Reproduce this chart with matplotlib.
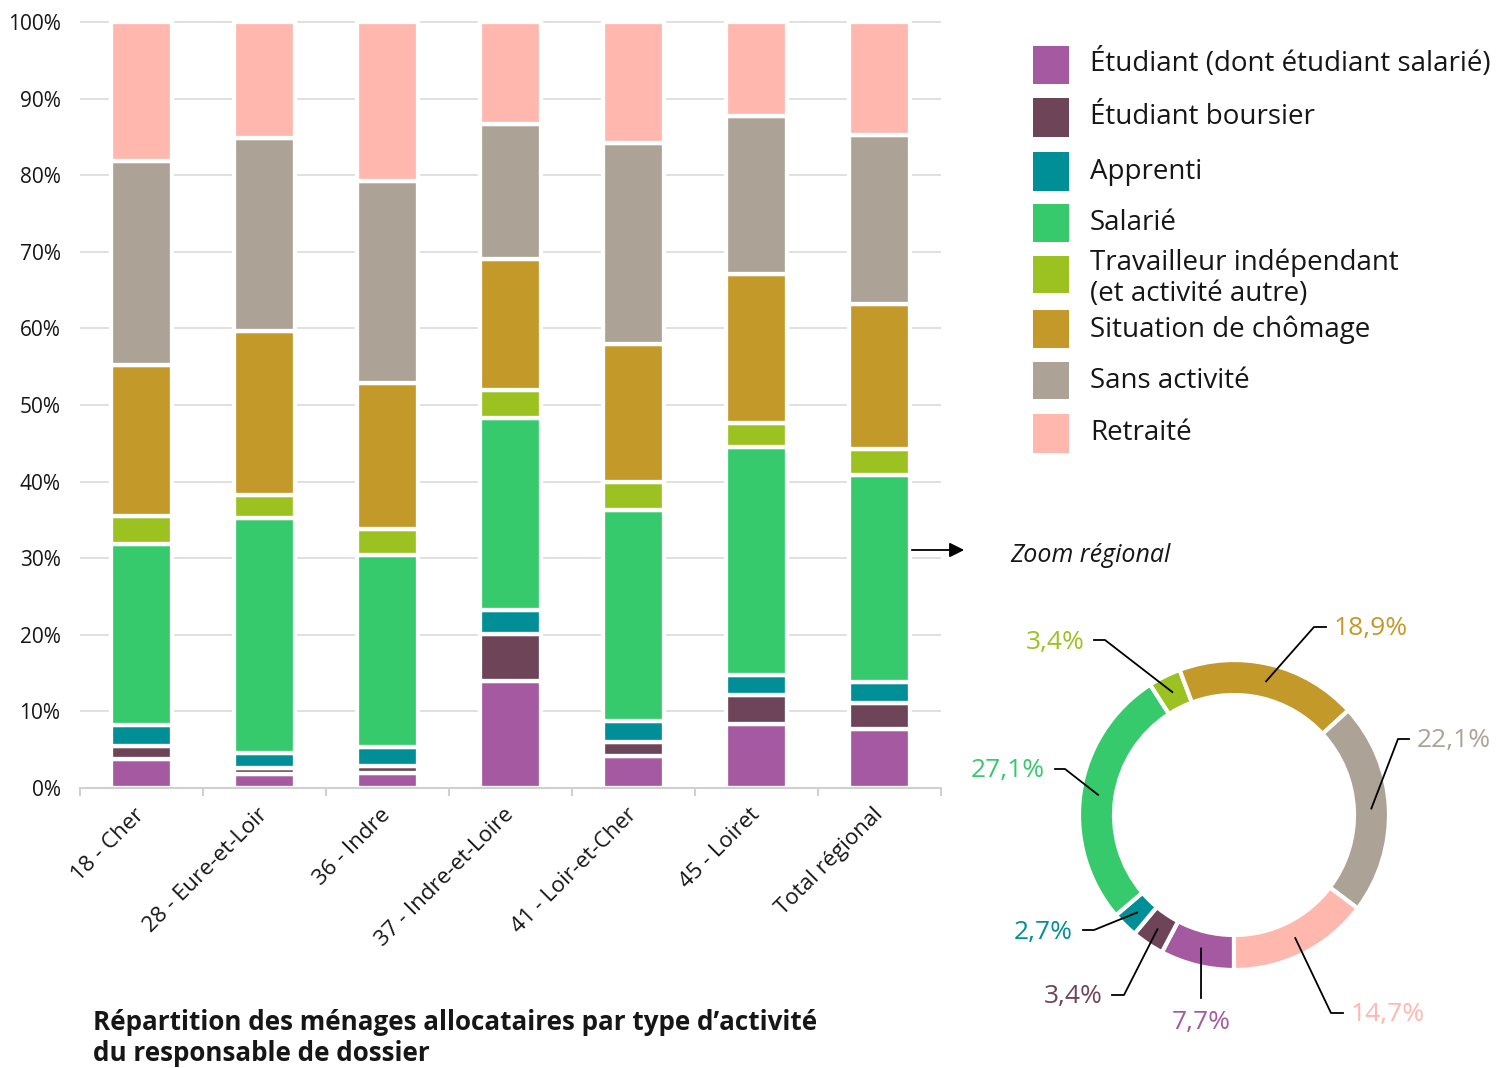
import matplotlib
matplotlib.use('Agg')
import matplotlib.pyplot as plt
import numpy as np
from matplotlib.patches import Rectangle
from matplotlib.lines import Line2D

plt.rcParams['font.family'] = ['Open Sans', 'DejaVu Sans']

# ---------------- data ----------------
categories = ['18 - Cher', '28 - Eure-et-Loir', '36 - Indre', '37 - Indre-et-Loire',
              '41 - Loir-et-Cher', '45 - Loiret', 'Total régional']
series_names = ['Étudiant (dont étudiant salarié)', 'Étudiant boursier', 'Apprenti', 'Salarié',
                'Travailleur indépendant\n(et activité autre)', 'Situation de chômage',
                'Sans activité', 'Retraité']
etudiant      = [3.75, 1.8, 1.9, 14.0, 4.2, 8.3, 7.7]
boursier      = [1.75, 0.8, 1.0, 6.1, 1.85, 3.9, 3.4]
apprenti      = [2.7, 2.0, 2.5, 3.2, 2.65, 2.55, 2.7]
salarie       = [23.7, 30.6, 25.0, 25.0, 27.55, 29.75, 27.1]
independant   = [3.6, 3.0, 3.4, 3.6, 3.75, 3.15, 3.4]
chomage       = [19.7, 21.5, 19.1, 17.2, 17.9, 19.5, 18.9]
sans_activite = [26.7, 25.2, 26.4, 17.6, 26.3, 20.55, 22.1]
retraite      = [18.1, 15.1, 20.7, 13.3, 15.8, 12.3, 14.7]
series = [etudiant, boursier, apprenti, salarie, independant, chomage, sans_activite, retraite]

donut_values = [7.7, 3.4, 2.7, 27.1, 3.4, 18.9, 22.1, 14.7]
donut_labels = ['7,7%', '3,4%', '2,7%', '27,1%', '3,4%', '18,9%', '22,1%', '14,7%']
yticks = [0, 10, 20, 30, 40, 50, 60, 70, 80, 90, 100]
ytick_labels = ['0%', '10%', '20%', '30%', '40%', '50%', '60%', '70%', '80%', '90%', '100%']
title = "Répartition des ménages allocataires par type d\u2019activité\ndu responsable de dossier"

colors = ['#A559A0', '#6E4558', '#008F96', '#36CA6D', '#9BC220', '#C3992A', '#ACA295', '#FFB7AE']

# ---------------- layout ----------------
W, H = 1509, 1068
fig = plt.figure(figsize=(W / 100, H / 100), dpi=100)

def fx(px):
    return px / W

def fy(py):
    return 1 - py / H

# bar axes: x from 80 to 941 px, y: 0% at 788 px, 100% at 22 px
ppu = (788 - 22) / 100.0
ytop = 100.6
ax = fig.add_axes([fx(80), fy(788), fx(941) - fx(80), (ytop * ppu) / H])
x = np.arange(len(categories))
bottom = np.zeros(len(categories))
for vals, c in zip(series, colors):
    ax.bar(x, vals, bottom=bottom, width=0.5, color=c, edgecolor='white',
           linewidth=3.1, zorder=3)
    bottom += np.array(vals)

ax.set_xlim(-0.5, len(categories) - 0.5)
ax.set_ylim(0, ytop)
ax.set_yticks(yticks, ytick_labels)
ax.yaxis.grid(True, color='#dadada', linewidth=1.2, zorder=0)
ax.set_axisbelow(True)
ax.tick_params(axis='y', length=0, pad=14, labelsize=15, labelcolor='#161616')
for s in ['left', 'right', 'top']:
    ax.spines[s].set_visible(False)
ax.spines['bottom'].set_color('#d0d0d0')
ax.spines['bottom'].set_linewidth(1.5)
ax.spines['bottom'].set_zorder(4)
ax.set_xticks(x)
ax.set_xticklabels(categories, rotation=45, ha='right', va='center',
                   rotation_mode='anchor', fontsize=16, color='#161616')
ax.tick_params(axis='x', which='major', length=0, pad=17)
ax.set_xticks(np.arange(-0.5, len(categories)), minor=True)
ax.tick_params(axis='x', which='minor', length=6, width=1.5, color='#d0d0d0')

# title
fig.text(fx(93), fy(1038), title, fontsize=18.7, fontweight='bold', color='#161616',
         ha='left', va='center', linespacing=1.2)

# legend (manual)
sq_rows = [(46, 84), (98, 137), (152, 191), (204, 242), (256, 293), (310, 348), (362, 399), (414, 453)]
txt_y = [63, 117, 172, 223, 278, 330, 381, 433]
for (y0, y1), ty, name, c in zip(sq_rows, txt_y, series_names, colors):
    fig.add_artist(Rectangle((fx(1033), fy(y1)), fx(1069) - fx(1033), (y1 - y0) / H,
                             transform=fig.transFigure, facecolor=c, edgecolor='none'))
    fig.text(fx(1090), fy(ty), name, fontsize=20, color='#161616', ha='left', va='center',
             linespacing=1.15)

# arrow + zoom label
fig.add_artist(matplotlib.patches.FancyArrowPatch((fx(909), fy(550)), (fx(967), fy(550)),
               transform=fig.transFigure, arrowstyle='-|>', mutation_scale=22,
               color='black', linewidth=1.3))
fig.text(fx(1010), fy(555), 'Zoom régional', fontsize=18, style='italic',
         color='#161616', ha='left', va='center')

# donut
cx, cy, R = 1234, 815, 155.0
half = 200
ax2 = fig.add_axes([fx(cx - half), fy(cy + half), 2 * half / W, 2 * half / H])
ax2.pie(donut_values, colors=colors, startangle=-90, counterclock=False, radius=1,
        wedgeprops=dict(width=35 / R, edgecolor='white', linewidth=3))
ax2.set_xlim(-half / R, half / R)
ax2.set_ylim(-half / R, half / R)
ax2.set_aspect('equal')
ax2.axis('off')

def d(px, py):
    return ((px - cx) / R, (cy - py) / R)

# label layout: (elbow px, end px, text anchor px, ha)
label_layout = [
    ((1201, 998), (1201, 998), (1201, 1022), 'center'),
    ((1124, 995), (1112, 995), (1103, 997), 'right'),
    ((1094, 930), (1083, 930), (1073, 932), 'right'),
    ((1065, 769), (1055, 769), (1045, 771), 'right'),
    ((1105, 640), (1094, 640), (1085, 642), 'right'),
    ((1314, 627), (1326, 627), (1334, 629), 'left'),
    ((1398, 739), (1409, 739), (1417, 741), 'left'),
    ((1331, 1013), (1343, 1013), (1351, 1015), 'left'),
]
cum = np.cumsum([0] + donut_values[:-1])
mid_r = 137.5 / R
for v, c0, lab, c, (elb, end, tpos, ha) in zip(donut_values, cum, donut_labels, colors, label_layout):
    ang = np.deg2rad(-90 - 360 * (c0 + v / 2) / 100.0)
    sx, sy = mid_r * np.cos(ang), mid_r * np.sin(ang)
    ex, ey = d(*elb)
    nx, ny = d(*end)
    ax2.add_line(Line2D([sx, ex, nx], [sy, ey, ny], color='black', linewidth=1.3, clip_on=False))
    tx, ty = d(*tpos)
    ax2.text(tx, ty, lab, color=c, fontsize=19, ha=ha, va='center', clip_on=False)

fig.savefig('out.png', dpi=100)
